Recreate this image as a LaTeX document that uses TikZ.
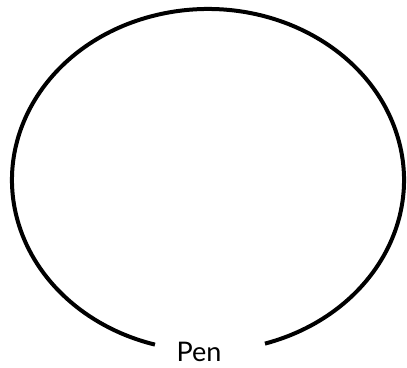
\documentclass[tikz,border=0pt]{standalone}
\usepackage{fontspec}
\setmainfont{Lato}
\usetikzlibrary{positioning}
\tikzset{
  penline/.style={line width=4pt, black},
  penlabel/.style={font=\fontsize{27}{30}\selectfont, inner sep=0pt, anchor=base}
}
\begin{document}
\begin{tikzpicture}
    \useasboundingbox (0,0) rectangle (407pt,367pt);

    % Centre of the ring, radii 196pt x 171pt
    \coordinate (ring) at (208pt,187pt);

    % Ring with a gap at the bottom for the label
    \draw[penline] (ring) ++(286.9:196pt and 171pt)
        arc[start angle=286.9, end angle=614.3, x radius=196pt, y radius=171pt];

    % Label in the gap
    \node[penlabel] (pen) at (199pt,5.5pt) {Pen};
\end{tikzpicture}
\end{document}
